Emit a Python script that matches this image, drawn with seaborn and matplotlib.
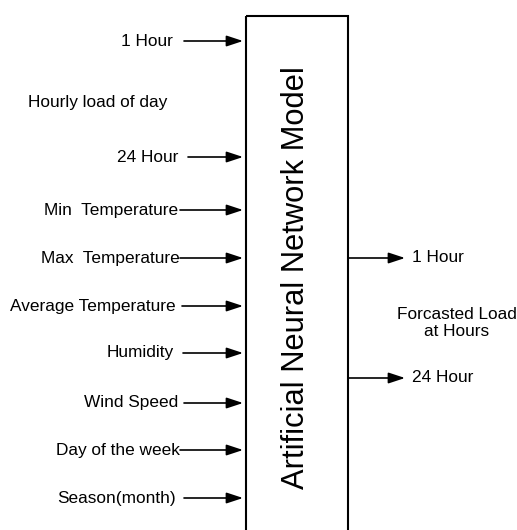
import matplotlib
matplotlib.use('Agg')
import matplotlib.pyplot as plt
import seaborn as sns
from matplotlib.patches import Rectangle

# diagram content
input_labels = ['1 Hour', '24 Hour', 'Min  Temperature', 'Max  Temperature', 'Average Temperature',
                'Humidity', 'Wind Speed', 'Day of the week', 'Season(month)']
input_y = [41, 157, 210, 258, 306, 353, 403, 450, 498]
input_start = [184, 188, 180, 180, 182, 183, 184, 180, 184]
input_text_end = [173, 178, 178, 180, 176, 174, 178, 180, 176]
group_label = 'Hourly load of day'
model_label = 'Artificial Neural Network Model'
output_labels = ['1 Hour', '24 Hour']
output_y = [258, 378]
output_note = 'Forcasted Load\nat Hours'

sns.set_style('white')
plt.rcParams['font.family'] = ['Liberation Sans', 'DejaVu Sans']

fig = plt.figure(figsize=(5.17, 5.30), dpi=100)
ax = fig.add_axes([0, 0, 1, 1])
ax.set_xlim(0, 517)
ax.set_ylim(530, 0)
ax.axis('off')

box_left, box_right, box_top = 246, 348, 16
ax.add_patch(Rectangle((box_left, box_top), box_right - box_left, 600,
                       fill=False, edgecolor='black', lw=1.5, clip_on=True))
ax.text((box_left + box_right) / 2 - 1, 278, model_label, rotation=90, ha='center', va='center',
        fontsize=22.2, color='black')

arrow = dict(arrowstyle='-|>,head_length=1.0,head_width=0.33', mutation_scale=10,
             lw=1.2, color='black', shrinkA=0, shrinkB=0)
fs = 12.4

for lab, y, x0, xe in zip(input_labels, input_y, input_start, input_text_end):
    ax.annotate('', xy=(box_left - 3, y), xytext=(x0, y), arrowprops=arrow)
    ax.text(xe, y, lab, ha='right', va='center', fontsize=fs, color='black')

ax.text(98, 102, group_label, ha='center', va='center', fontsize=fs, color='black')

for lab, y in zip(output_labels, output_y):
    ax.annotate('', xy=(405, y), xytext=(box_right, y), arrowprops=arrow)
    ax.text(412, y, lab, ha='left', va='center', fontsize=fs, color='black')

ax.text(457, 323, output_note, ha='center', va='center', fontsize=fs, color='black',
        linespacing=1.2)

fig.savefig('out.png', dpi=100)
